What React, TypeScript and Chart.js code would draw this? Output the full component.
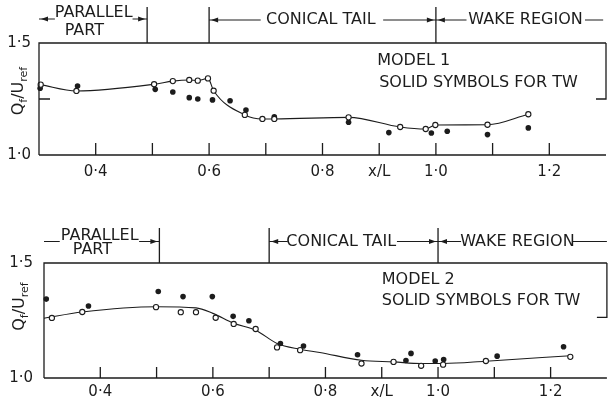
import React, { useEffect, useRef } from "react";
import { Chart, registerables } from "chart.js";

Chart.register(...registerables);

// ---------- data ----------
const M1_OPEN_X = [0.303, 0.366, 0.503, 0.536, 0.565, 0.58, 0.598, 0.608, 0.663, 0.694, 0.715, 0.846, 0.937, 0.982, 0.999, 1.091, 1.163];
const M1_OPEN_Y = [1.314, 1.286, 1.316, 1.33, 1.335, 1.332, 1.342, 1.287, 1.179, 1.161, 1.161, 1.168, 1.125, 1.116, 1.134, 1.135, 1.182];
const M1_SOLID_X = [0.302, 0.368, 0.505, 0.536, 0.565, 0.58, 0.606, 0.637, 0.665, 0.715, 0.846, 0.917, 0.992, 1.02, 1.091, 1.163];
const M1_SOLID_Y = [1.298, 1.308, 1.293, 1.281, 1.256, 1.25, 1.246, 1.242, 1.201, 1.171, 1.146, 1.1, 1.098, 1.106, 1.091, 1.121];

const M2_OPEN_X = [0.314, 0.368, 0.499, 0.543, 0.57, 0.605, 0.637, 0.676, 0.714, 0.755, 0.864, 0.921, 0.97, 1.009, 1.085, 1.235];
const M2_OPEN_Y = [1.261, 1.287, 1.308, 1.286, 1.286, 1.262, 1.235, 1.213, 1.133, 1.121, 1.063, 1.07, 1.053, 1.058, 1.074, 1.092];
const M2_SOLID_X = [0.304, 0.379, 0.503, 0.547, 0.599, 0.636, 0.664, 0.72, 0.761, 0.857, 0.943, 0.952, 0.995, 1.01, 1.105, 1.223];
const M2_SOLID_Y = [1.343, 1.313, 1.376, 1.354, 1.354, 1.268, 1.249, 1.15, 1.139, 1.101, 1.076, 1.107, 1.074, 1.08, 1.095, 1.136];
const M2_FIT_X = [0.3, 0.368, 0.5, 0.57, 0.6, 0.637, 0.676, 0.714, 0.755, 0.79, 0.864, 0.921, 0.97, 1.01, 1.085, 1.235];
const M2_FIT_Y = [1.26, 1.287, 1.31, 1.305, 1.281, 1.238, 1.208, 1.15, 1.125, 1.111, 1.077, 1.07, 1.063, 1.063, 1.073, 1.097];

const X_TICKS = [0.4, 0.5, 0.6, 0.7, 0.8, 0.9, 1.0, 1.1, 1.2];
const X_LABEL_VALUES = [0.4, 0.6, 0.8, 0.9, 1.0, 1.2];
const X_LABELS = ["0·4", "0·6", "0·8", "x/L", "1·0", "1·2"];
const Y_LABEL_VALUES = [1.5, 1.0];
const Y_LABELS = ["1·5", "1·0"];

const INK = "#1c1c1c";
const FONT = '"DejaVu Sans", sans-serif';

const pts = (xs: number[], ys: number[]) => xs.map((x, i) => ({ x, y: ys[i] }));

function arrowHead(ctx: CanvasRenderingContext2D, x: number, y: number, dir: number) {
  ctx.beginPath();
  ctx.moveTo(x, y);
  ctx.lineTo(x - dir * 7, y - 2.4);
  ctx.lineTo(x - dir * 7, y + 2.4);
  ctx.closePath();
  ctx.fill();
}

const framePlugin = {
  id: "frame",
  afterDraw(chart: any, _args: any, o: any) {
    const { ctx, chartArea: a } = chart;
    const xs = chart.scales.x;
    const ys = chart.scales.y;
    const X = (v: number) => xs.getPixelForValue(v);
    const Y = (v: number) => ys.getPixelForValue(v);
    ctx.save();
    ctx.strokeStyle = INK;
    ctx.fillStyle = INK;
    ctx.lineWidth = 1.3;
    // frame
    ctx.beginPath();
    ctx.moveTo(a.left, a.bottom);
    ctx.lineTo(a.left, a.top);
    ctx.lineTo(a.right, a.top);
    ctx.moveTo(a.left, a.bottom);
    ctx.lineTo(a.right, a.bottom);
    ctx.moveTo(a.right, a.top);
    ctx.lineTo(a.right, Y(o.rightTo));
    ctx.lineTo(a.right - 10, Y(o.rightTo));
    if (o.leftTick) {
      ctx.moveTo(a.left, Y(o.leftTick));
      ctx.lineTo(a.left + 11, Y(o.leftTick));
    }
    // inward x ticks
    X_TICKS.forEach((v) => {
      ctx.moveTo(X(v), a.bottom);
      ctx.lineTo(X(v), a.bottom - o.tickLen);
    });
    // region dividers
    o.dividers.forEach((v: number) => {
      ctx.moveTo(X(v), o.divTop);
      ctx.lineTo(X(v), a.top);
    });
    ctx.stroke();
    // region lines with arrows
    ctx.lineWidth = 1;
    o.lines.forEach((l: any) => {
      const x1 = X(l[0]);
      const x2 = X(l[1]);
      ctx.beginPath();
      ctx.moveTo(x1, l[2]);
      ctx.lineTo(x2, l[2]);
      ctx.stroke();
      if (l[3] === "start") arrowHead(ctx, x1 + 2, l[2], -1);
      if (l[3] === "end") arrowHead(ctx, x2 - 2, l[2], 1);
    });
    // texts
    ctx.textBaseline = "middle";
    ctx.font = `16px ${FONT}`;
    ctx.textAlign = "center";
    o.texts.forEach((t: any) => ctx.fillText(t[0], X(t[1]), t[2]));
    ctx.textAlign = "left";
    o.inner.forEach((t: any) => ctx.fillText(t[0], X(t[1]), Y(t[2])));
    // tick labels
    ctx.font = `15px ${FONT}`;
    ctx.textAlign = "center";
    X_LABEL_VALUES.forEach((v, i) => ctx.fillText(X_LABELS[i], X(v), a.bottom + o.xLabOff));
    ctx.textAlign = "right";
    Y_LABEL_VALUES.forEach((v, i) => ctx.fillText(Y_LABELS[i], a.left - o.yLabOff, Y(v)));
    // y title Q_f / U_ref
    ctx.save();
    ctx.translate(o.titleX, (a.top + a.bottom) / 2 - o.titleUp);
    ctx.rotate(-Math.PI / 2);
    const big = `16px ${FONT}`;
    const small = `11px ${FONT}`;
    const parts: [string, string, number][] = [
      ["Q", big, 0],
      ["f", small, 5],
      ["/U", big, 0],
      ["ref", small, 5],
    ];
    let w = 0;
    parts.forEach((p) => {
      ctx.font = p[1];
      w += ctx.measureText(p[0]).width;
    });
    let cx = -w / 2;
    ctx.textAlign = "left";
    parts.forEach((p) => {
      ctx.font = p[1];
      ctx.fillText(p[0], cx, p[2]);
      cx += ctx.measureText(p[0]).width;
    });
    ctx.restore();
    ctx.restore();
  },
};

function makeConfig(datasets: any[], padding: any, frame: any) {
  return {
    type: "scatter",
    data: { datasets },
    options: {
      animation: false,
      responsive: false,
      events: [],
      layout: { padding },
      scales: {
        x: { type: "linear", min: 0.3, max: 1.3, display: false },
        y: { type: "linear", min: 1.0, max: 1.5, display: false },
      },
      plugins: { legend: { display: false }, tooltip: { enabled: false }, frame },
    },
    plugins: [framePlugin],
  };
}

const openStyle = {
  pointRadius: 2.6,
  pointBackgroundColor: "#fff",
  pointBorderColor: INK,
  pointBorderWidth: 1.1,
  clip: false,
};
const solidStyle = {
  pointRadius: 2.8,
  pointBackgroundColor: INK,
  pointBorderColor: INK,
  pointBorderWidth: 0,
  showLine: false,
  clip: false,
};

function Panel({ config, top, height }: { config: any; top: number; height: number }) {
  const ref = useRef<HTMLCanvasElement>(null);
  useEffect(() => {
    const chart = new Chart(ref.current as HTMLCanvasElement, config);
    return () => chart.destroy();
  }, []);
  return (
    <canvas
      ref={ref}
      width={612}
      height={height}
      style={{ position: "absolute", left: 0, top, width: 612, height }}
    />
  );
}

export default function App() {
  const topConfig = makeConfig(
    [
      {
        data: pts(M1_OPEN_X, M1_OPEN_Y),
        showLine: true,
        borderColor: INK,
        borderWidth: 1.1,
        cubicInterpolationMode: "monotone",
        ...openStyle,
      },
      { data: pts(M1_SOLID_X, M1_SOLID_Y), ...solidStyle },
    ],
    { left: 39, top: 43, right: 6, bottom: 45 },
    {
      rightTo: 1.25,
      leftTick: 1.25,
      tickLen: 12,
      dividers: [0.4907, 0.6, 1.0],
      divTop: 7,
      lines: [
        [0.3, 0.328, 19, "start"],
        [0.465, 0.4907, 19, "end"],
        [0.6, 0.691, 20, "start"],
        [0.907, 1.0, 20, "end"],
        [1.0, 1.054, 20, "start"],
        [1.263, 1.295, 20, ""],
      ],
      texts: [
        ["PARALLEL", 0.3965, 13],
        ["PART", 0.38, 31],
        ["CONICAL TAIL", 0.797, 20],
        ["WAKE REGION", 1.158, 20],
      ],
      inner: [
        ["MODEL 1", 0.8965, 1.42],
        ["SOLID SYMBOLS FOR TW", 0.9, 1.321],
      ],
      xLabOff: 17,
      yLabOff: 8,
      titleX: 19,
      titleUp: 8,
    }
  );
  const bottomConfig = makeConfig(
    [
      { data: pts(M2_OPEN_X, M2_OPEN_Y), showLine: false, ...openStyle },
      { data: pts(M2_SOLID_X, M2_SOLID_Y), ...solidStyle },
      {
        data: pts(M2_FIT_X, M2_FIT_Y),
        showLine: true,
        borderColor: INK,
        borderWidth: 1.1,
        cubicInterpolationMode: "monotone",
        pointRadius: 0,
        clip: false,
      },
    ],
    { left: 44, top: 63, right: 1, bottom: 24 },
    {
      rightTo: 1.264,
      leftTick: 0,
      tickLen: 11,
      dividers: [0.505, 0.7, 1.0],
      divTop: 28,
      lines: [
        [0.3, 0.328, 41.5, ""],
        [0.469, 0.505, 41.5, "end"],
        [0.7, 0.733, 41.5, "start"],
        [0.927, 1.0, 41.5, "end"],
        [1.0, 1.041, 41.5, "start"],
        [1.239, 1.3, 41.5, ""],
      ],
      texts: [
        ["PARALLEL", 0.399, 36],
        ["PART", 0.386, 50],
        ["CONICAL TAIL", 0.828, 41.5],
        ["WAKE REGION", 1.141, 41.5],
      ],
      inner: [
        ["MODEL 2", 0.9, 1.427],
        ["SOLID SYMBOLS FOR TW", 0.9, 1.335],
      ],
      xLabOff: 14,
      yLabOff: 11,
      titleX: 20,
      titleUp: 14,
    }
  );
  return (
    <div style={{ position: "absolute", left: 0, top: 0, width: 612, height: 402, background: "#fff" }}>
      <Panel config={topConfig} top={0} height={200} />
      <Panel config={bottomConfig} top={200} height={202} />
    </div>
  );
}
